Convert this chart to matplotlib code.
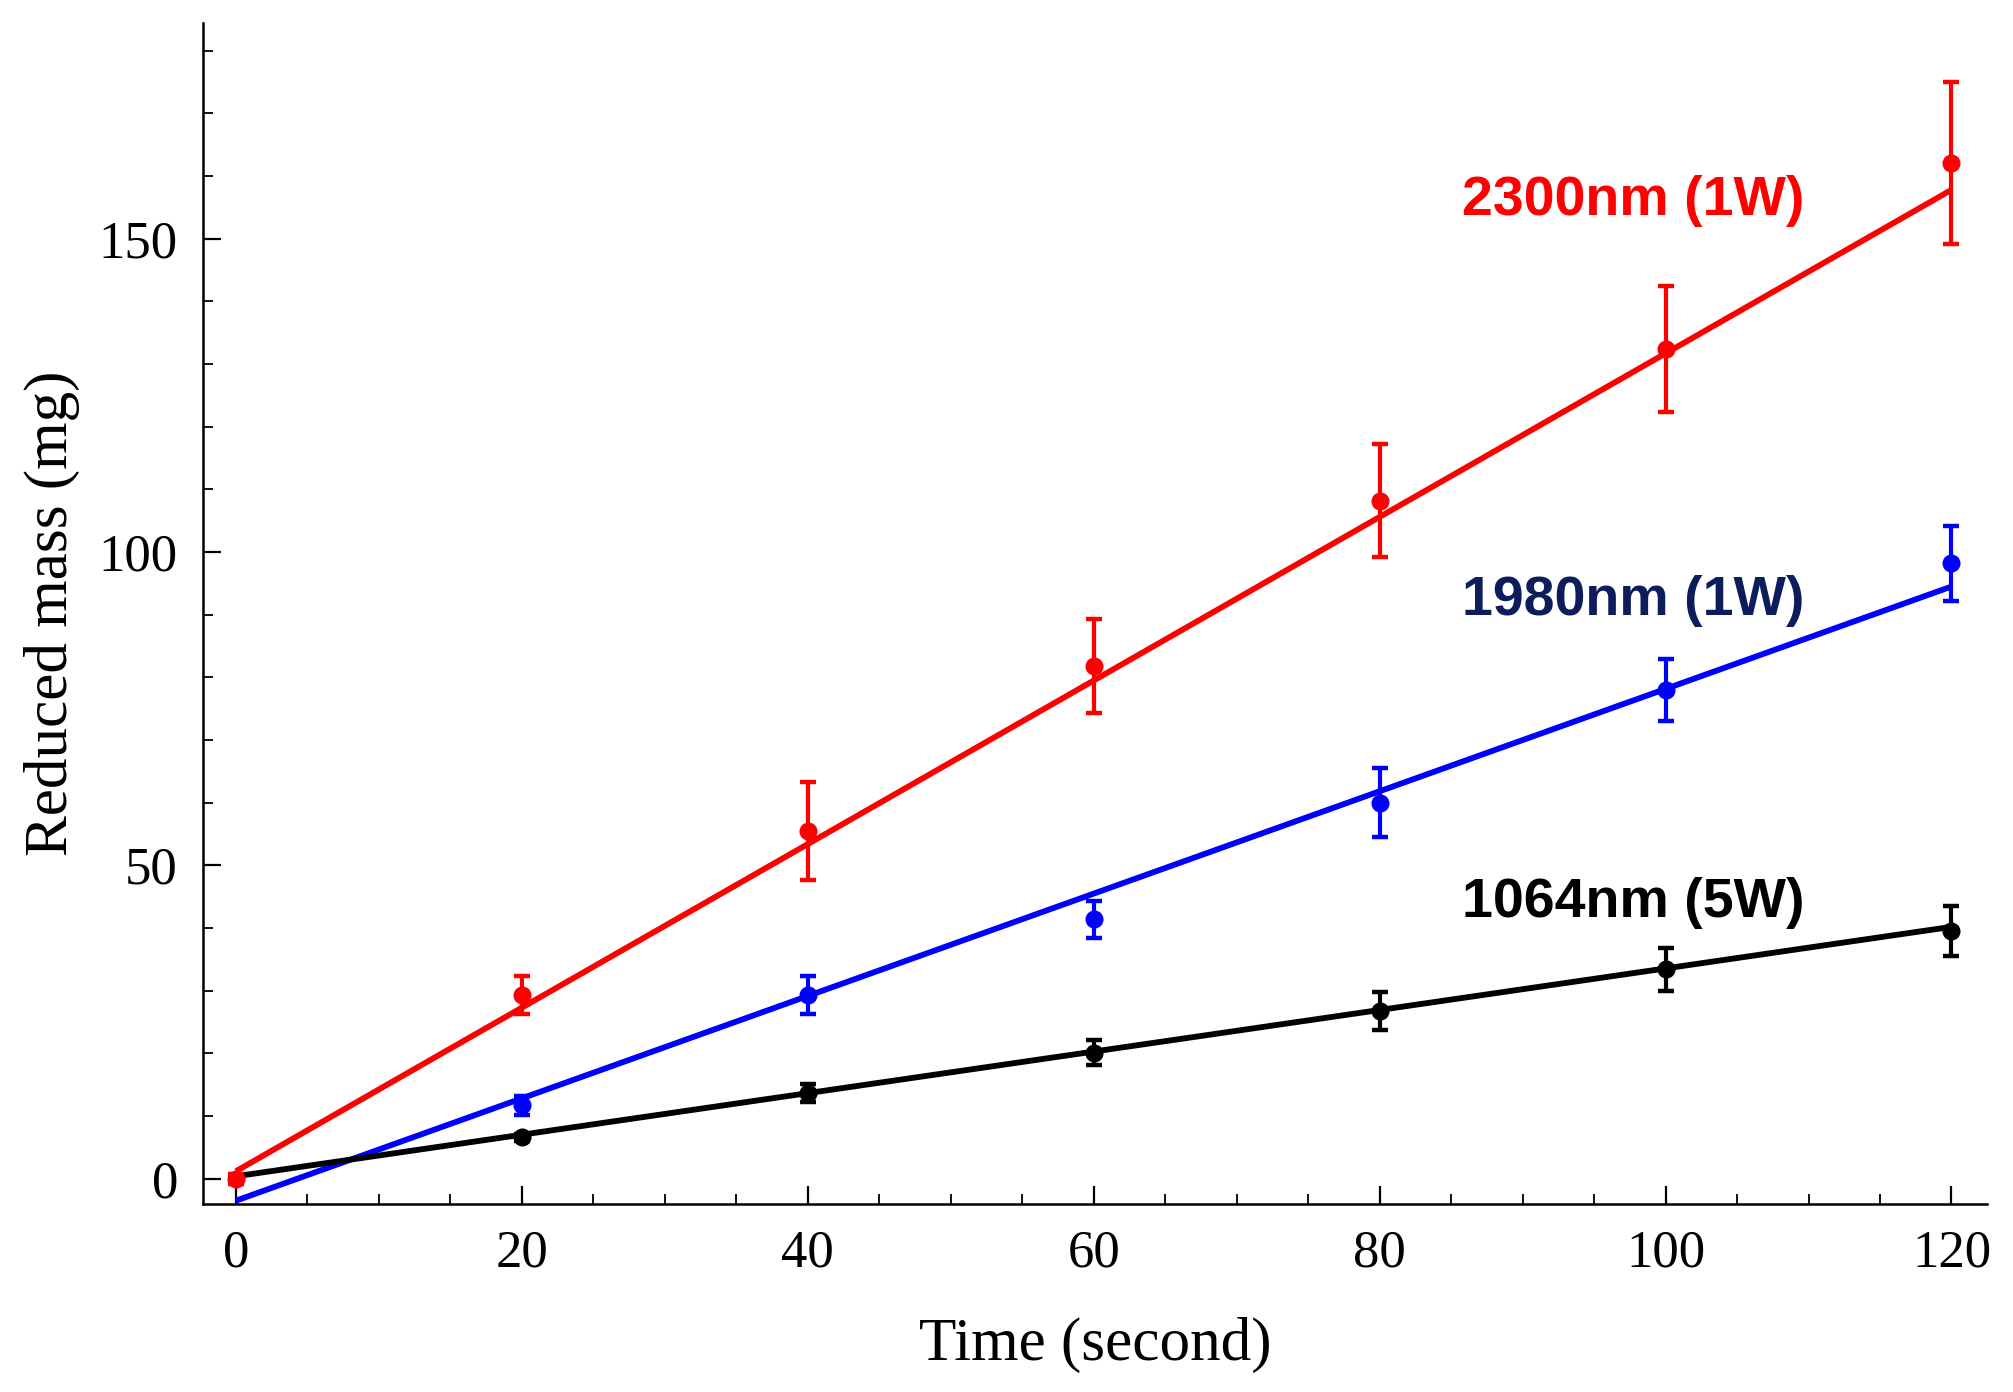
import matplotlib
matplotlib.use("Agg")
import matplotlib.pyplot as plt
from matplotlib.ticker import MultipleLocator
from matplotlib import font_manager

# ---------------- data ----------------
time_red = [0, 20, 40, 60, 80, 100, 120]
mass_red = [0.0, 29.3, 55.5, 81.8, 108.2, 132.4, 162.1]
err_red = [0.8, 3.0, 7.8, 7.5, 9.0, 10.0, 12.9]

time_blue = [20, 40, 60, 80, 100, 120]
mass_blue = [11.7, 29.3, 41.4, 60.0, 78.0, 98.2]
err_blue = [1.5, 3.0, 3.0, 5.5, 5.0, 6.0]

time_black = [20, 40, 60, 80, 100, 120]
mass_black = [6.6, 13.7, 20.1, 26.8, 33.4, 39.5]
err_black = [0.6, 1.5, 2.0, 3.0, 3.5, 4.0]

fit_x = [0, 120]
fit_red = [1.2, 157.8]
fit_blue = [-3.5, 94.5]
fit_black = [0.4, 40.2]

labels = ["2300nm (1W)", "1980nm (1W)", "1064nm (5W)"]
label_y = [156, 92.2, 44.0]
label_colors = ["#ff0000", "#0d1d5c", "#000000"]

xticks = [0, 20, 40, 60, 80, 100, 120]
yticks = [0, 50, 100, 150]

# ---------------- fonts ----------------
names = {f.name for f in font_manager.fontManager.ttflist}
serif = "Liberation Serif" if "Liberation Serif" in names else "DejaVu Serif"
narrow = "Liberation Sans Narrow" if "Liberation Sans Narrow" in names else "Liberation Sans"

# ---------------- figure ----------------
fig = plt.figure(figsize=(20.13, 13.92), dpi=100)
ax = fig.add_axes([0.1008, 0.1347, 0.9872 - 0.1008, 0.9834 - 0.1347])

series = [
    (time_red, mass_red, err_red, fit_red, "#ff0000"),
    (time_blue, mass_blue, err_blue, fit_blue, "#0000ff"),
    (time_black, mass_black, err_black, fit_black, "#000000"),
]
for tx, my, er, fit, col in series:
    ax.plot(fit_x, fit, color=col, lw=4.2, solid_capstyle="butt", zorder=2)
    ax.errorbar(tx, my, yerr=er, fmt="o", color=col, ms=12, elinewidth=3.0,
                capsize=5.5, capthick=3.2, zorder=3)

for txt, yy, col in zip(labels, label_y, label_colors):
    ax.text(109.7, yy, txt, color=col, fontsize=40, fontweight="bold",
            family=narrow, ha="right", va="center")

ax.set_xlim(-2.3, 122.5)
ax.set_ylim(-4.1, 184.4)
ax.set_xticks(xticks)
ax.set_yticks(yticks)
ax.xaxis.set_minor_locator(MultipleLocator(5))
ax.yaxis.set_minor_locator(MultipleLocator(10))

for s in ["top", "right"]:
    ax.spines[s].set_visible(False)
for s in ["left", "bottom"]:
    ax.spines[s].set_linewidth(1.8)

ax.tick_params(which="major", direction="in", length=13, width=1.6,
               labelsize=38, pad=18)
ax.tick_params(which="minor", direction="in", length=7, width=1.3)
for lab in ax.get_xticklabels() + ax.get_yticklabels():
    lab.set_family(serif)

ax.set_xlabel("Time (second)", fontsize=44, family=serif)
ax.set_ylabel("Reduced mass (mg)", fontsize=44, family=serif)
ax.xaxis.set_label_coords(0.5, -0.095)
ax.yaxis.set_label_coords(-0.069, 0.5)

fig.savefig("out.png", dpi=100, facecolor="white")
